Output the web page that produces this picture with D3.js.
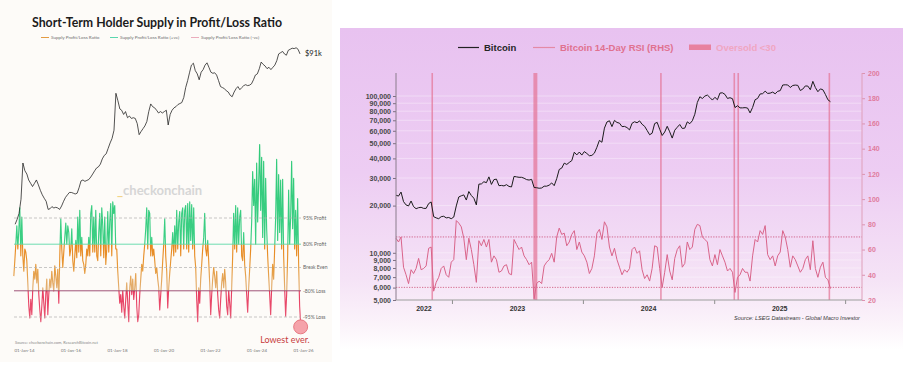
<!DOCTYPE html>
<html>
<head>
<meta charset="utf-8">
<title>STH Supply in Profit/Loss and Bitcoin RSI</title>
<script src="https://cdnjs.cloudflare.com/ajax/libs/d3/7.8.5/d3.min.js"></script>
<style>
  body { margin: 0; background: #ffffff; }
  svg { display: block; }
  .lf { font-family: Lato, "Open Sans", sans-serif; }
  .rf { font-family: "Liberation Sans", Arial, sans-serif; }
</style>
</head>
<body>
<svg id="chart" width="921" height="377"></svg>
<script>
// ---------- left chart: STH supply in profit/loss ----------
var btcMonthlyStart = "2013-08-15";   // one value per month
var btcMonthly = [
  90, 110, 140, 250, 1100,
  800, 700, 550, 480, 420, 480, 550, 450, 360, 300, 260, 230,
  165, 170, 185, 175, 180, 175, 165, 190, 230, 270, 300, 330,
  330, 320, 310, 320, 400, 530, 550, 520, 540, 560, 620, 700,
  800, 900, 940, 1050, 1300, 1500, 1600, 2000, 2500, 3000, 4200, 19000,
  14000, 10000, 9500, 8000, 9000, 7000, 7500, 6800, 7000, 6800, 5500, 3500,
  4000, 4500, 5000, 6000, 9000, 12300, 11000, 10500, 9500, 8500, 9000, 8500,
  9000, 9500, 5200, 8000, 9500, 10500, 11000, 12000, 12500, 13000, 16000, 24000,
  32000, 45000, 60000, 65000, 48000, 42000, 33000, 45000, 50000, 60000, 66000, 55000,
  45000, 43000, 44000, 40000, 32000, 25000, 24000, 23000, 21000, 20000, 17500, 16500,
  20000, 23000, 25000, 22000, 24000, 26000, 27000, 26000, 26500, 28000, 33000, 40000,
  42000, 52000, 68000, 62000, 58000, 52000, 55000, 50000, 55000, 60000, 72000, 95000,
  100000, 105000, 95000, 90000, 110000, 115000, 120000, 118000, 122000, 115000, 95000
];

var ratioStart = "2013-07-25";
var ratioStepDays = 15.7;
// supply in profit / supply in loss
var sthRatio = [
  0.6, 1.5, 4, 12, 3, 9, 35, 2, 20, 2, 0.8,
  3, 2.5, 1.5, 0.4, 0.1, 0.05, 0.15, 0.06, 0.3, 0.8, 0.5, 1.2, 0.4, 0.9, 0.2, 0.08, 0.04, 0.1, 0.3, 0.12, 0.05, 0.2, 0.5,
  0.06, 0.2, 0.5, 0.3, 0.8, 0.4, 0.25, 1.1, 0.6, 0.3, 0.9, 0.12, 2, 18, 3, 1, 2.5, 6, 14, 4, 12, 8, 2,
  3, 10, 1.5, 0.8, 2, 5, 1.8, 20, 2.5, 30, 2, 6, 1.5, 1.2, 0.7, 1.2, 3, 2, 6, 2, 25, 40, 2.5,
  20, 2.5, 30, 2, 1.5, 8, 25, 2, 35, 12, 1.8, 20, 1.2, 3, 28, 2.5, 15, 45, 2, 50, 25, 40, 3,
  3, 0.8, 0.3, 0.12, 0.2, 0.07, 0.25, 0.1, 0.05, 0.15, 0.4, 0.12, 0.04, 0.3, 0.6, 0.2, 0.5, 0.15, 0.3, 0.7, 0.1, 0.04, 0.06,
  0.2, 0.5, 1.2, 0.8, 2, 4, 10, 35, 3, 30, 25, 2, 6, 2, 3, 1.5, 0.7, 1, 0.5, 0.3, 0.08, 0.2, 0.5,
  1.5, 4, 18, 2, 0.8, 0.09, 0.3, 0.7, 1.5, 3, 8, 2, 12, 2.5, 30, 3, 15, 28, 2, 25, 35, 3, 30,
  40, 3, 45, 2.5, 50, 5, 42, 3, 35, 2, 1, 0.15, 0.04, 0.3, 0.12, 0.5, 1.2, 3, 6, 25, 3, 2, 5,
  1.5, 0.4, 0.06, 0.2, 0.5, 1, 0.6, 0.3, 0.8, 0.2, 0.08, 0.05, 0.15, 0.4, 0.7, 0.3, 0.9, 0.4, 0.1, 0.06, 0.25, 0.12, 0.05,
  0.3, 2, 25, 3, 40, 2.5, 35, 4, 20, 30, 2, 1.5, 8, 1.2, 0.6, 0.2, 0.07, 0.3, 0.9, 3, 15, 300, 40,
  190, 4, 500, 15, 150, 1500, 30, 700, 6, 550, 3, 200, 10, 2, 0.6, 0.2, 0.06, 0.3, 1.2, 0.5, 3, 20, 620,
  5, 250, 8, 180, 3, 190, 2, 0.3, 0.055, 0.2, 2, 100, 4, 20, 550, 10, 200, 3, 30, 2, 60, 1.2, 0.1, 0.035
];

var ratioLevels = [19, 4, 1, 0.25, 1 / 19];
var ratioLevelLabels = ["95% Profit", "80% Profit", "Break Even", "-80% Loss", "-95% Loss"];
var leftTickDates = ["2014-01-01", "2016-01-01", "2018-01-01", "2020-01-01", "2022-01-01", "2024-01-01", "2026-01-01"];

// ---------- right chart: bitcoin vs 14-day RSI ----------
var weekStart = "2022-07-29";        // one value per week
var btcWeeklyK = [
  23.3, 23.0, 24.4, 21.2, 20.2, 19.9, 21.4, 19.7, 19.1, 19.4,
  19.5, 19.2, 19.2, 20.6, 21.1, 17.0, 16.7, 16.5, 17.0, 17.1,
  16.7, 16.8, 16.5, 16.9, 19.9, 22.7, 23.1, 23.4, 21.7, 24.6,
  23.2, 22.3, 20.2, 27.4, 27.5, 28.4, 28.0, 30.5, 27.3, 29.3,
  29.5, 26.8, 26.9, 26.7, 27.2, 26.5, 26.3, 30.7, 30.5, 30.3,
  30.3, 29.9, 29.3, 29.1, 29.4, 26.1, 26.0, 25.8, 25.9, 26.6,
  26.6, 27.0, 27.9, 26.8, 29.7, 34.0, 34.7, 37.3, 36.6, 37.7,
  38.7, 43.8, 42.1, 43.9, 42.0, 44.2, 43.0, 41.6, 41.8, 43.2,
  47.1, 52.1, 50.7, 62.4, 68.3, 69.5, 63.8, 69.9, 67.8, 67.1,
  63.8, 64.0, 62.9, 60.8, 67.0, 68.5, 67.5, 69.4, 66.0, 64.1,
  60.3, 56.6, 57.9, 66.7, 67.9, 61.4, 56.0, 58.9, 64.1, 59.1,
  53.9, 60.5, 63.2, 65.8, 62.1, 62.4, 68.4, 66.6, 69.5, 76.5,
  91.0, 98.9, 96.4, 99.9, 101.4, 97.8, 94.2, 98.1, 94.7, 104.4,
  104.8, 102.4, 96.5, 97.5, 96.1, 84.4, 86.7, 84.0, 84.0, 84.3,
  83.8, 78.0, 84.5, 94.7, 96.5, 103.0, 103.5, 107.3, 103.9, 104.3,
  105.9, 103.3, 107.1, 108.2, 117.5, 117.9, 117.6, 113.3, 116.7, 117.4,
  116.9, 108.4, 110.7, 115.9, 115.7, 109.7, 124.0, 113.2, 106.5, 111.0,
  109.6, 102.3, 94.6, 92.0
];
var rsiWeekly = [
  69, 66, 70, 46, 40, 33, 44, 41, 45, 53,
  44, 45, 47, 61, 62, 27, 34, 38, 45, 47,
  40, 38, 50, 52, 83, 81, 78, 69, 52, 69,
  60, 48, 34, 67, 63, 68, 62, 68, 50, 55,
  52, 42, 43, 47, 48, 41, 40, 68, 64, 60,
  62, 55, 52, 48, 50, 21, 33, 35, 33, 47,
  50, 52, 57, 50, 70, 77, 72, 73, 63, 66,
  72, 75, 60, 66, 58, 55, 50, 41, 45, 55,
  73, 76, 68, 82, 78, 62, 55, 61, 52, 46,
  40, 44, 42, 45, 60, 62, 57, 59, 44, 37,
  40, 35, 45, 63, 62, 45, 30, 42, 56, 43,
  36, 53, 60, 63, 46, 49, 66, 60, 62, 76,
  80, 79, 70, 68, 66, 52, 47, 56, 48, 60,
  55, 50, 43, 45, 42, 26, 38, 40, 45, 42,
  42, 35, 55, 68, 66, 75, 72, 79, 56, 52,
  55, 47, 55, 58, 75, 70, 60, 46, 55, 52,
  47, 42, 45, 52, 55, 44, 67, 45, 38, 46,
  50, 38, 36, 29
];
var oversoldStart = ["2022-11-06", "2023-08-16", "2024-08-05", "2025-02-25", "2025-03-08", "2025-11-17"];
var oversoldEnd   = ["2022-11-08", "2023-08-27", "2024-08-06", "2025-02-27", "2025-03-10", "2025-11-19"];
var priceTicks = [5000, 6000, 7000, 8000, 9000, 10000, 20000, 30000, 40000, 50000, 60000, 70000, 80000, 90000, 100000];
var rsiTicks = [20, 40, 60, 80, 100, 120, 140, 160, 180, 200];
var yearLabels = [2022, 2023, 2024, 2025];

var parse = d3.timeParse("%Y-%m-%d");
var svg = d3.select("#chart");
var defs = svg.append("defs");

// ================= LEFT =================
svg.append("rect").attr("x", 0).attr("y", 0).attr("width", 332).attr("height", 362).attr("fill", "#fdfbf8");

var L = svg.append("g");
L.append("text").attr("class", "lf")
  .attr("x", 157).attr("y", 26.5).attr("text-anchor", "middle")
  .attr("font-weight", 700).attr("font-size", 12.5).attr("fill", "#1c1c1c")
  .attr("textLength", 250).attr("lengthAdjust", "spacingAndGlyphs")
  .text("Short-Term Holder Supply in Profit/Loss Ratio");

var legL = [
  { c: "#e0902c", t: "Supply Profit/Loss Ratio", x: 41 },
  { c: "#48d3a6", t: "Supply Profit/Loss Ratio (+ve)", x: 110 },
  { c: "#e9a3b4", t: "Supply Profit/Loss Ratio (-ve)", x: 191 }
];
legL.forEach(function(d) {
  L.append("line").attr("x1", d.x).attr("x2", d.x + 8).attr("y1", 37.5).attr("y2", 37.5)
    .attr("stroke", d.c).attr("stroke-width", 0.9);
  L.append("text").attr("class", "lf").attr("x", d.x + 10).attr("y", 39.2)
    .attr("font-size", 4.6).attr("fill", "#6f6f6f").text(d.t);
});

var xL = d3.scaleTime().domain([parse("2014-01-01"), parse("2026-01-01")]).range([24, 303]);
var yPL = d3.scaleLog().domain([1100, 126000]).range([163, 47]);
var yRt = d3.scaleLog().domain([1 / 19, 19]).range([317, 218]);

// watermark
var wm = L.append("text").attr("class", "lf").attr("x", 117).attr("y", 195)
  .attr("font-size", 13).attr("font-weight", 700);
wm.append("tspan").attr("fill", "#f2d48a").text("_");
wm.append("tspan").attr("fill", "#d6d6d6").text("checkonchain");

// oscillator colours by level
var yTop = yRt(2000), yBot = yRt(0.02);
function off(v) { return (yRt(v) - yTop) / (yBot - yTop); }
var g1 = defs.append("linearGradient").attr("id", "oscGrad")
  .attr("gradientUnits", "userSpaceOnUse")
  .attr("x1", 0).attr("x2", 0).attr("y1", yTop).attr("y2", yBot);
[
  [0, "#2fc978"], [off(4), "#3ccf84"], [off(4), "#e8861c"], [off(1), "#e79a3a"],
  [off(0.25), "#e2b27a"], [off(0.25), "#e83d61"], [1, "#e8627c"]
].forEach(function(s) {
  g1.append("stop").attr("offset", s[0]).attr("stop-color", s[1]);
});

var r0 = parse(ratioStart);
var ratioData = sthRatio.map(function(v, i) {
  return { date: new Date(r0.getTime() + i * ratioStepDays * 864e5), v: v };
});
L.append("path").datum(ratioData)
  .attr("fill", "none").attr("stroke", "url(#oscGrad)").attr("stroke-width", 1.15)
  .attr("stroke-linejoin", "round")
  .attr("d", d3.line().x(function(d) { return xL(d.date); }).y(function(d) { return yRt(d.v); }));

// level lines (on top of the oscillator)
var levelStyle = [
  { s: "#b0b0b0", d: "3,2", w: 0.7 },
  { s: "#5fd9a8", d: null, w: 0.9 },
  { s: "#b0b0b0", d: "3,2", w: 0.7 },
  { s: "#96406a", d: null, w: 0.9 },
  { s: "#b0b0b0", d: "3,2", w: 0.7 }
];
ratioLevels.forEach(function(v, i) {
  L.append("line").attr("x1", 14).attr("x2", 301)
    .attr("y1", yRt(v)).attr("y2", yRt(v))
    .attr("stroke", levelStyle[i].s).attr("stroke-width", levelStyle[i].w)
    .attr("stroke-dasharray", levelStyle[i].d);
  L.append("text").attr("class", "lf").attr("x", 303).attr("y", yRt(v) + 1.7)
    .attr("font-size", 5).attr("fill", "#666").text(ratioLevelLabels[i]);
});

// price
var p0 = parse(btcMonthlyStart);
var priceData = btcMonthly.map(function(v, i) {
  return { date: d3.timeMonth.offset(p0, i), v: v };
});
L.append("path").datum(priceData)
  .attr("fill", "none").attr("stroke", "#1a1a1a").attr("stroke-width", 0.75)
  .attr("d", d3.line().x(function(d) { return xL(d.date); }).y(function(d) { return yPL(d.v); }));

var lastP = priceData[priceData.length - 1];
L.append("text").attr("class", "lf").attr("x", xL(lastP.date) + 5).attr("y", yPL(lastP.v) + 2.5)
  .attr("font-size", 7.5).attr("fill", "#222").text("$91k");

// lowest ever marker
var lastR = ratioData[ratioData.length - 1];
L.append("circle").attr("cx", xL(lastR.date)).attr("cy", yRt(lastR.v) + 3).attr("r", 7)
  .attr("fill", "#f5a3aa").attr("stroke", "#e2646e").attr("stroke-width", 0.8);
L.append("text").attr("class", "lf").attr("x", 285).attr("y", 342.5).attr("text-anchor", "middle")
  .attr("font-size", 9).attr("fill", "#c83c3e").text("Lowest ever.");

L.append("text").attr("class", "lf").attr("x", 15).attr("y", 344)
  .attr("font-size", 4).attr("fill", "#888").text("Source: checkonchain.com, ResearchBitcoin.net");

var axL = L.append("g").attr("transform", "translate(0,350)")
  .call(d3.axisBottom(xL).tickValues(leftTickDates.map(parse))
    .tickFormat(d3.timeFormat("%d-%b-%y")).tickSize(0).tickPadding(0));
axL.select(".domain").remove();
axL.selectAll("text").attr("class", "lf").attr("font-size", 4.5).attr("fill", "#777").attr("dy", "0.35em");

// ================= RIGHT =================
var bg = defs.append("linearGradient").attr("id", "bgGrad").attr("x1", 0).attr("x2", 0).attr("y1", 0).attr("y2", 1);
[[0, "#e8c2f0"], [0.45, "#edcdf3"], [0.78, "#f5e3f6"], [0.92, "#fbf3fa"], [1, "#ffffff"]].forEach(function(s) {
  bg.append("stop").attr("offset", s[0]).attr("stop-color", s[1]);
});
svg.append("rect").attr("x", 340).attr("y", 28).attr("width", 563).attr("height", 322).attr("fill", "url(#bgGrad)");

var R = svg.append("g");
var xR = d3.scaleTime().domain([parse("2022-07-29"), parse("2026-02-17")]).range([396, 862]);
var yP = d3.scaleLog().domain([5000, 100000]).range([300, 96]);
var yS = d3.scaleLinear().domain([20, 200]).range([300, 73]);

// gridlines
priceTicks.forEach(function(t) {
  R.append("line").attr("x1", 396).attr("x2", 862).attr("y1", yP(t)).attr("y2", yP(t))
    .attr("stroke", "#ffffff").attr("stroke-opacity", 0.45).attr("stroke-width", 0.8);
});

// oversold bars
oversoldStart.forEach(function(s, i) {
  var a = xR(parse(s)), b = xR(parse(oversoldEnd[i]));
  var w = Math.max(1.6, b - a);
  R.append("rect").attr("x", (a + b) / 2 - w / 2).attr("y", 73).attr("width", w).attr("height", 227)
    .attr("fill", "#e4789a").attr("fill-opacity", 0.75);
});

// 70 / 30 lines
[70, 30].forEach(function(v) {
  R.append("line").attr("x1", 396).attr("x2", 862).attr("y1", yS(v)).attr("y2", yS(v))
    .attr("stroke", "#cf5c86").attr("stroke-width", 0.9).attr("stroke-dasharray", "1.3,1.3");
});

var w0 = parse(weekStart);
var weekly = btcWeeklyK.map(function(v, i) {
  return { date: d3.timeDay.offset(w0, i * 7), p: v * 1000, rsi: rsiWeekly[i] };
});

R.append("path").datum(weekly).attr("fill", "none").attr("stroke", "#d9648a").attr("stroke-width", 1)
  .attr("d", d3.line().x(function(d) { return xR(d.date); }).y(function(d) { return yS(d.rsi); }));
R.append("path").datum(weekly).attr("fill", "none").attr("stroke", "#1b1b1b").attr("stroke-width", 1)
  .attr("d", d3.line().x(function(d) { return xR(d.date); }).y(function(d) { return yP(d.p); }));

// axes
var axP = R.append("g").attr("transform", "translate(396,0)")
  .call(d3.axisLeft(yP).tickValues(priceTicks).tickFormat(d3.format(",")).tickSize(3).tickPadding(2));
axP.select(".domain").remove();
axP.selectAll("line").attr("stroke", "#7d7080");
axP.selectAll("text").attr("class", "rf").attr("font-size", 7).attr("font-weight", 700).attr("fill", "#474747");
R.append("line").attr("x1", 396).attr("x2", 396).attr("y1", 73).attr("y2", 300)
  .attr("stroke", "#8a7d8c").attr("stroke-width", 1);

var axS = R.append("g").attr("transform", "translate(862,0)")
  .call(d3.axisRight(yS).tickValues(rsiTicks).tickSize(3).tickPadding(3));
axS.select(".domain").remove();
axS.selectAll("line").attr("stroke", "#dc93b0");
axS.selectAll("text").attr("class", "rf").attr("font-size", 7).attr("font-weight", 700).attr("fill", "#e07c9d");
R.append("line").attr("x1", 862).attr("x2", 862).attr("y1", 73).attr("y2", 300)
  .attr("stroke", "#dfa0ba").attr("stroke-width", 1);

var yearStarts = [2023, 2024, 2025, 2026].map(function(y) { return new Date(y, 0, 1); });
var axX = R.append("g").attr("transform", "translate(0,300)")
  .call(d3.axisBottom(xR).tickValues(yearStarts).tickFormat("").tickSize(4));
axX.select(".domain").remove();
axX.selectAll("line").attr("stroke", "#8f8f8f");
R.append("line").attr("x1", 396).attr("x2", 862).attr("y1", 300).attr("y2", 300)
  .attr("stroke", "#9c9c9c").attr("stroke-width", 1.2);

var dom = xR.domain();
yearLabels.forEach(function(y) {
  var a = Math.max(+new Date(y, 0, 1), +dom[0]);
  var b = Math.min(+new Date(y + 1, 0, 1), +dom[1]);
  R.append("text").attr("class", "rf").attr("x", xR(new Date((a + b) / 2))).attr("y", 311)
    .attr("text-anchor", "middle").attr("font-size", 7).attr("font-weight", 700).attr("fill", "#333")
    .text(y);
});

// legend
R.append("line").attr("x1", 458).attr("x2", 479).attr("y1", 47.5).attr("y2", 47.5).attr("stroke", "#222").attr("stroke-width", 1.2);
R.append("text").attr("class", "rf").attr("x", 484).attr("y", 51).attr("font-size", 9.5).attr("font-weight", 700)
  .attr("fill", "#262626").text("Bitcoin");
R.append("line").attr("x1", 533).attr("x2", 555).attr("y1", 47.5).attr("y2", 47.5).attr("stroke", "#e48aa6").attr("stroke-width", 1.2);
R.append("text").attr("class", "rf").attr("x", 560).attr("y", 51).attr("font-size", 9.5).attr("font-weight", 700)
  .attr("fill", "#e0718f").text("Bitcoin 14-Day RSI (RHS)");
R.append("rect").attr("x", 689).attr("y", 44.5).attr("width", 22).attr("height", 5.5).attr("fill", "#e8819f");
R.append("text").attr("class", "rf").attr("x", 716).attr("y", 51).attr("font-size", 9.5).attr("font-weight", 700)
  .attr("fill", "#f0a6c2").text("Oversold <30");

R.append("text").attr("class", "rf").attr("x", 860).attr("y", 320).attr("text-anchor", "end")
  .attr("font-size", 5.6).attr("font-style", "italic").attr("fill", "#3a3a3a")
  .text("Source: LSEG Datastream - Global Macro Investor");
</script>
</body>
</html>
